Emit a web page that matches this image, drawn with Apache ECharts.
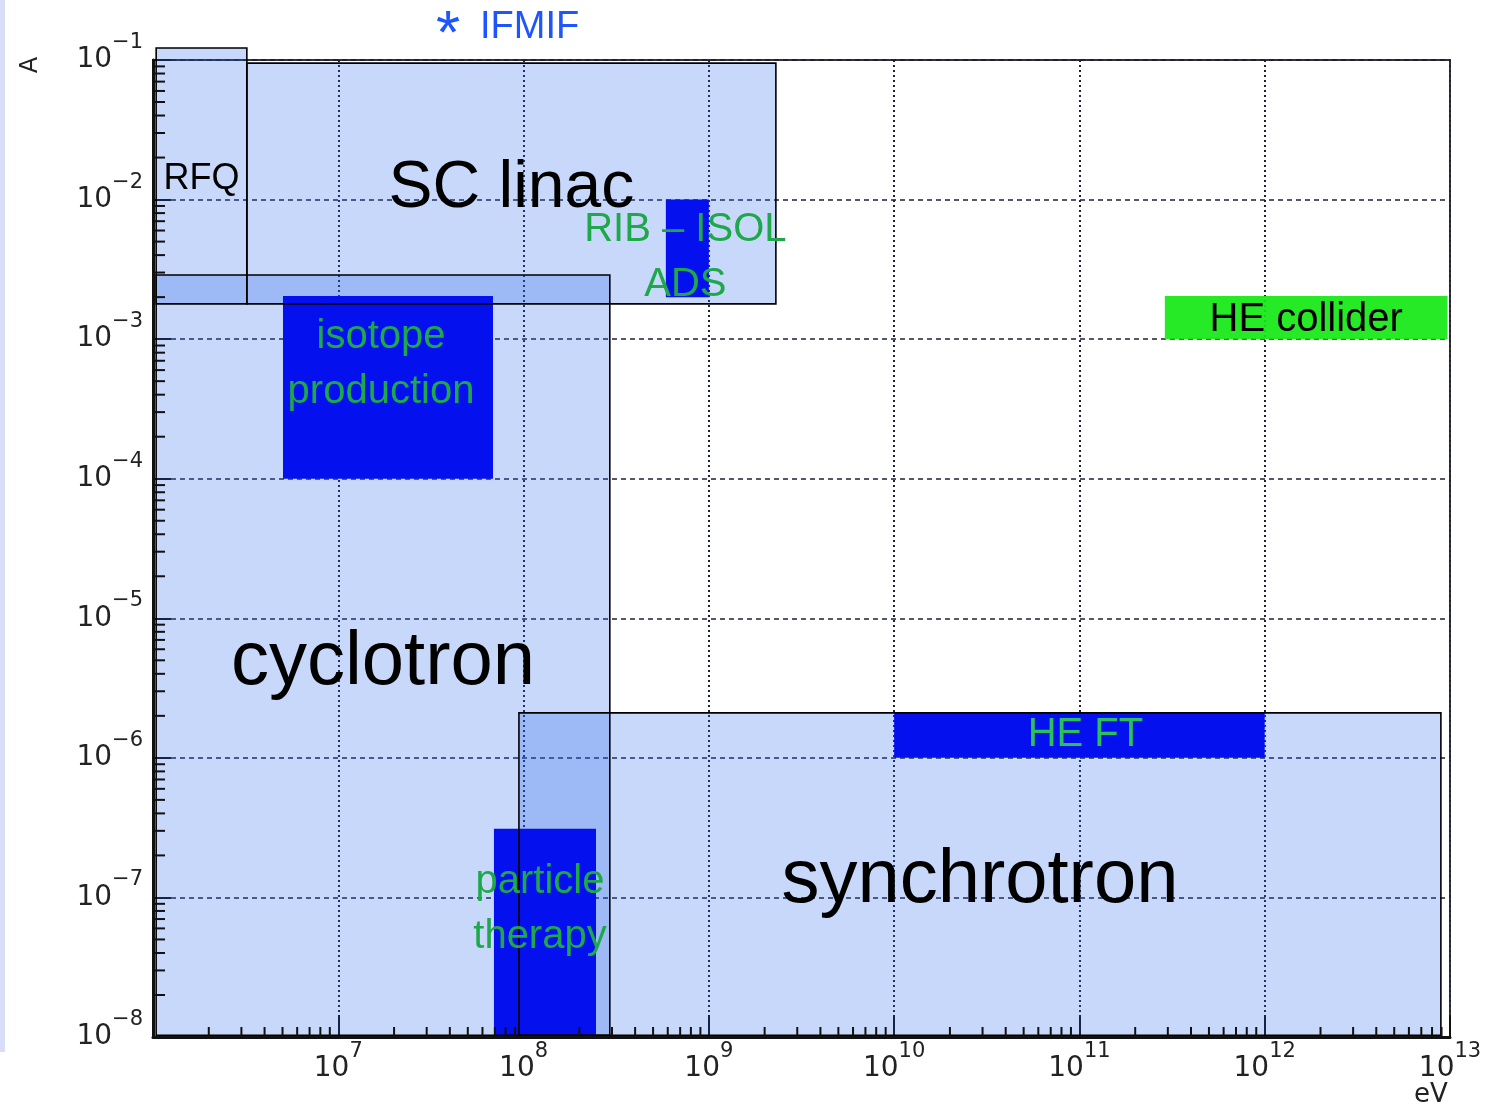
<!DOCTYPE html>
<html lang="en">
<head>
    <meta charset="UTF-8">
    <title>accelerator beam current vs energy</title>
    <script type="text/javascript" src="https://cdn.jsdelivr.net/npm/echarts@6/dist/echarts.min.js"></script>
    <style>
        html, body { margin: 0; padding: 0; background: #fff; }
    </style>
</head>
<body>
    <div id="main" style="width: 1507px; height: 1104px;"></div>

    <script type="text/javascript">
        // accelerator types (light boxes): energy range [eV], current range [A]
        var typeNames = ['cyclotron', 'SC linac', 'RFQ', 'synchrotron'];
        var typeEMin = [1.04e6, 3.21e6, 1.04e6, 9.44e7];
        var typeEMax = [2.92e8, 2.30e9, 3.21e6, 8.93e12];
        var typeIMin = [1.03e-8, 1.79e-3, 1.79e-3, 1.03e-8];
        var typeIMax = [2.88e-3, 9.5e-2, 1.22e-1, 2.10e-6];

        // applications (solid boxes)
        var appNames = ['isotope\nproduction', 'RIB \u2013 ISOL\nADS', 'HE FT', 'particle\ntherapy', 'HE collider'];
        var appEMin = [5.03e6, 5.86e8, 1.0e10, 6.92e7, 2.89e11];
        var appEMax = [6.84e7, 1.0e9, 1.0e12, 2.46e8, 9.7e12];
        var appIMin = [1.0e-4, 2.0e-3, 1.0e-6, 1.03e-8, 1.0e-3];
        var appIMax = [2.04e-3, 1.0e-2, 2.10e-6, 3.1e-7, 2.04e-3];

        // log axis minor ticks
        var minorSteps = [2, 3, 4, 5, 6, 7, 8, 9];
        var xDecades = [6, 7, 8, 9, 10, 11, 12];
        var yDecades = [-8, -7, -6, -5, -4, -3, -2];

        // styles
        var typeFont = { 'cyclotron': 76, 'SC linac': 66, 'RFQ': 36, 'synchrotron': 76 };
        var typeShift = { 'cyclotron': 8, 'SC linac': 5, 'RFQ': 3, 'synchrotron': 7 };
        var appFill = ['#0410ee', '#0410ee', '#0410ee', '#0410ee', '#14e814'];
        var appText = ['#1ea84a', '#1ea84a', '#2cc05c', '#1ea84a', '#000'];
        var appShiftX = [-7, -2, 6, -5, 0];
        var appShiftY = [-23, 9, 0, -23, 2];

        function rows(a, b, c, d) {
            return a.map(function (v, i) { return [a[i], b[i], c[i], d[i]]; });
        }
        var typeData = rows(typeEMin, typeEMax, typeIMin, typeIMax);
        var appData = rows(appEMin, appEMax, appIMin, appIMax);

        var xMinor = [], yMinor = [];
        xDecades.forEach(function (d) { minorSteps.forEach(function (m) { xMinor.push([m * Math.pow(10, d)]); }); });
        yDecades.forEach(function (d) { minorSteps.forEach(function (m) { yMinor.push([m * Math.pow(10, d)]); }); });

        function boxShape(api) {
            var p0 = api.coord([api.value(0), api.value(3)]);
            var p1 = api.coord([api.value(1), api.value(2)]);
            return { x: p0[0], y: p0[1], width: p1[0] - p0[0], height: p1[1] - p0[1] };
        }

        function powLabel(v) {
            var e = Math.round(Math.log10(v));
            return '{b|10}{s|' + (e < 0 ? '\u2212' + (-e) : e) + '}';
        }
        function powLabelX(v) {
            return Math.round(Math.log10(v)) === 6 ? '' : powLabel(v);
        }
        var labelRich = {
            b: { fontSize: 28, fontFamily: 'DejaVu Sans', color: '#222', lineHeight: 56, verticalAlign: 'middle' },
            s: { fontSize: 21, fontFamily: 'DejaVu Sans', color: '#222', lineHeight: 24, verticalAlign: 'top' }
        };

        var myChart = echarts.init(document.getElementById('main'));

        myChart.setOption({
            animation: false,
            grid: {
                left: 153, right: 57, top: 60, bottom: 67,
                show: true, borderColor: '#333', borderWidth: 2,
                outerBoundsMode: 'none'
            },
            xAxis: {
                type: 'log',
                min: 1e6,
                max: 1e13,
                axisLine: { lineStyle: { color: '#111', width: 3 } },
                axisTick: { inside: true, length: 22, lineStyle: { color: '#111', width: 2 } },
                axisLabel: { formatter: powLabelX, rich: labelRich, margin: 4 },
                splitLine: { show: true, lineStyle: { color: '#1c2038', width: 2, type: [2, 3] } }
            },
            yAxis: {
                type: 'log',
                min: 1e-8,
                max: 1e-1,
                axisLine: { lineStyle: { color: '#111', width: 3 } },
                axisTick: { inside: true, length: 18, lineStyle: { color: '#111', width: 2 } },
                axisLabel: { formatter: powLabel, rich: labelRich, margin: 10 },
                splitLine: { show: true, lineStyle: { color: '#1c2038', width: 1.5, type: [5, 4] } }
            },
            graphic: [
                { type: 'rect', left: 0, top: 0, shape: { width: 5, height: 1052 }, style: { fill: '#d8def8' } },
                { type: 'text', x: 448, y: 5,
                  style: { text: '*', font: '62px Liberation Sans', fill: '#1f55ff', align: 'center', verticalAlign: 'top' } },
                { type: 'text', x: 480, y: 9,
                  style: { text: 'IFMIF', font: '38px Liberation Sans', fill: '#1f55ff', align: 'left', verticalAlign: 'top' } },
                { type: 'text', x: 31, y: 65, rotation: Math.PI / 2,
                  style: { text: 'A', font: '24px DejaVu Sans', fill: '#222', align: 'center', verticalAlign: 'middle' } },
                { type: 'text', x: 1431, y: 1082,
                  style: { text: 'eV', font: '26px DejaVu Sans', fill: '#222', align: 'center', verticalAlign: 'top' } }
            ],
            series: [
                {
                    name: 'type fill',
                    type: 'custom',
                    z: 2,
                    clip: false,
                    data: typeData,
                    encode: { x: [0, 1], y: [2, 3] },
                    renderItem: function (params, api) {
                        return { type: 'rect', shape: boxShape(api), style: { fill: 'rgba(35,99,235,0.25)' } };
                    }
                },
                {
                    name: 'application',
                    type: 'custom',
                    z: 3,
                    clip: false,
                    data: appData,
                    encode: { x: [0, 1], y: [2, 3] },
                    renderItem: function (params, api) {
                        return {
                            type: 'rect', shape: boxShape(api),
                            style: { fill: appFill[params.dataIndex], opacity: params.dataIndex === 4 ? 0.92 : 1 }
                        };
                    }
                },
                {
                    name: 'type border',
                    type: 'custom',
                    z: 4,
                    clip: false,
                    data: typeData,
                    encode: { x: [0, 1], y: [2, 3] },
                    renderItem: function (params, api) {
                        var s = boxShape(api);
                        var name = typeNames[params.dataIndex];
                        return {
                            type: 'group',
                            children: [
                                { type: 'rect', shape: s, style: { fill: null, stroke: '#000', lineWidth: 1.6 } },
                                { type: 'text', z2: 10,
                                  style: { text: name, x: s.x + s.width / 2, y: s.y + s.height / 2 + typeShift[name],
                                           align: 'center', verticalAlign: 'middle', fill: '#000',
                                           font: typeFont[name] + 'px Liberation Sans' } }
                            ]
                        };
                    }
                },
                {
                    name: 'application label',
                    type: 'custom',
                    z: 5,
                    clip: false,
                    data: appData,
                    encode: { x: [0, 1], y: [2, 3] },
                    renderItem: function (params, api) {
                        var s = boxShape(api);
                        var i = params.dataIndex;
                        return {
                            type: 'text',
                            style: { text: appNames[i],
                                     x: s.x + s.width / 2 + appShiftX[i], y: s.y + s.height / 2 + appShiftY[i],
                                     align: 'center', verticalAlign: 'middle', fill: appText[i],
                                     font: '40px Liberation Sans', lineHeight: 55 }
                        };
                    }
                },
                {
                    name: 'x minor ticks',
                    type: 'custom',
                    z: 6,
                    data: xMinor,
                    encode: { x: 0 },
                    renderItem: function (params, api) {
                        var p = api.coord([api.value(0), 1e-8]);
                        return { type: 'line', shape: { x1: p[0], y1: p[1], x2: p[0], y2: p[1] - 10 },
                                 style: { stroke: '#111', lineWidth: 2 } };
                    }
                },
                {
                    name: 'y minor ticks',
                    type: 'custom',
                    z: 6,
                    data: yMinor,
                    encode: { y: 0 },
                    renderItem: function (params, api) {
                        var p = api.coord([1e6, api.value(0)]);
                        return { type: 'line', shape: { x1: p[0], y1: p[1], x2: p[0] + 12, y2: p[1] },
                                 style: { stroke: '#111', lineWidth: 2 } };
                    }
                }
            ]
        });
    </script>
</body>
</html>
